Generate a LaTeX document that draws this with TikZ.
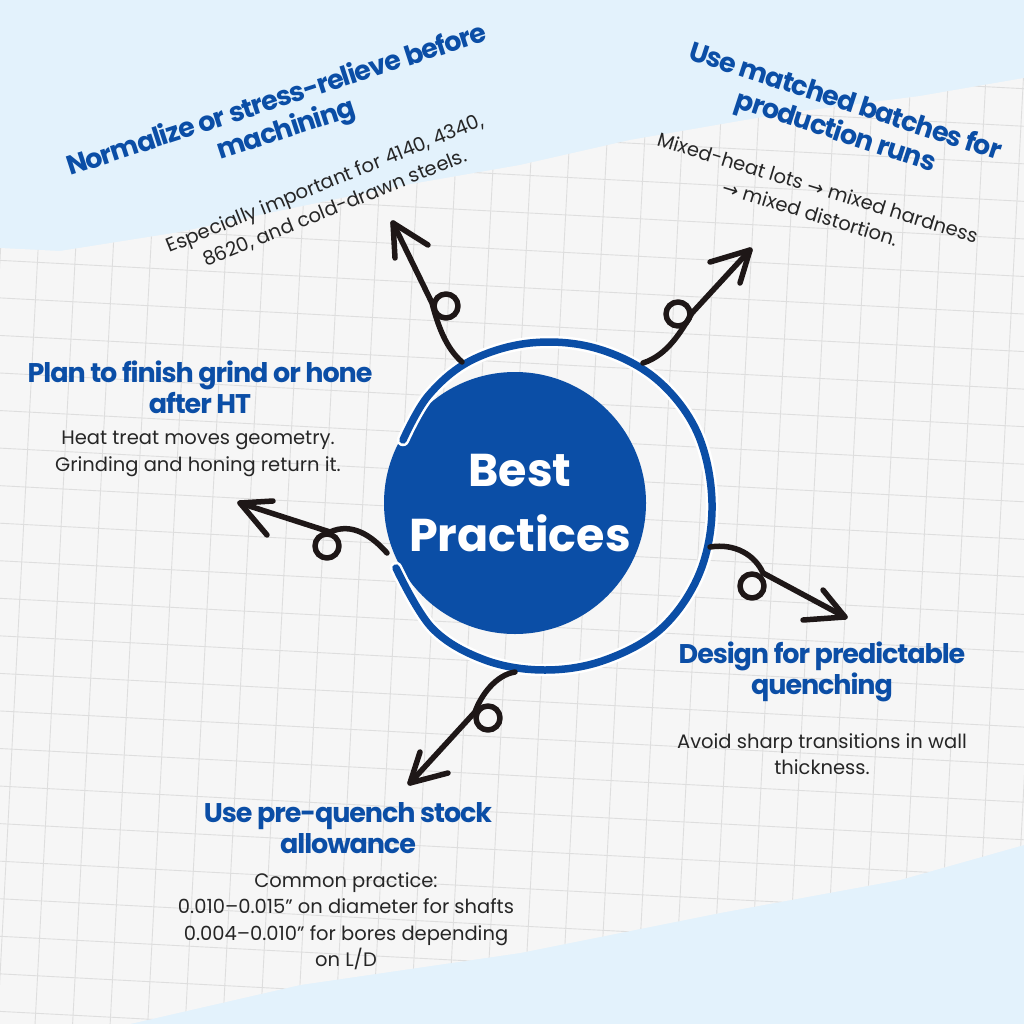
\documentclass[tikz,border=0pt]{standalone}
\usepackage{fontspec}
\setmainfont{Poppins}
\newfontfamily\titlef{Poppins}[LetterSpace=-4]
\newfontfamily\symf{DejaVu Sans}
\definecolor{bgblue}{HTML}{E3F2FC}
\definecolor{paper}{HTML}{F6F6F6}
\definecolor{gridc}{HTML}{DEDEDE}
\definecolor{navy}{HTML}{0B4EA6}
\definecolor{ink}{HTML}{1E1717}
\definecolor{bodyc}{HTML}{262626}
\tikzset{
  ttl/.style={text=navy, font=\titlef\bfseries\fontsize{27}{31}\selectfont, align=center, inner sep=0pt},
  bdy/.style={text=bodyc, font=\fontsize{19.5}{26.5}\selectfont, align=center, inner sep=0pt},
  curl/.style={draw=ink, line width=5.5pt, line cap=round, line join=round},
  ring/.style={draw=white, line width=2.5pt, double=navy, double distance=7.5pt, line cap=round},
  gridline/.style={draw=gridc, line width=0.9pt},
}
\begin{document}
\begin{tikzpicture}[x=1pt,y=-1pt]
\useasboundingbox (0,0) rectangle (1024,1024);
\fill[bgblue] (0,0) rectangle (1024,1024);
% paper sheet
\def\sheet{(0,248) -- (60,251) -- (180,232) -- (293,208) -- (400,186) -- (520,165) -- (630,140) -- (780,114) -- (920,96) -- (1024,78)
  -- (1024,845) -- (900,880) -- (720,913) -- (520,953) -- (300,985) -- (130,1024) -- (0,1024) -- cycle}
\fill[paper] \sheet;
\begin{scope}
  \clip \sheet;
  \begin{scope}[rotate around={-3:(512,512)}]
    \foreach \k in {-10,...,40} {
      \draw[gridline] (-200+37.5*\k,-200) -- (-200+37.5*\k,1250);
      \draw[gridline] (-200,-200+37.5*\k) -- (1250,-200+37.5*\k);
    }
  \end{scope}
\end{scope}

% hub
\node[circle, fill=navy, minimum size=262pt, inner sep=0pt] (hub) at (515,503) {};
\draw[ring] plot[smooth, tension=0.6] coordinates {(403,440) (428,396) (470,361) (530,343) (595,348) (655,378) (697,432) (712,503) (700,572) (662,628) (605,660) (545,670) (485,660) (432,628) (396,568)};
\node[text=white, font=\bfseries\fontsize{46}{65}\selectfont, align=center, inner sep=0pt] (hubtext) at (520,503) {Best\\Practices};

% texts
\node[ttl, rotate=18] (t1) at (282,116) {Normalize or stress-relieve before\\machining};
\node[bdy, rotate=22] (b1) at (330,196) {Especially important for 4140, 4340,\\8620, and cold-drawn steels.};
\node[ttl, rotate=-18] (t2) at (840,118) {Use matched batches for\\production runs};
\node[bdy, rotate=-17] (b2) at (814,200) {Mixed-heat lots {\symf →} mixed hardness\\{\symf →} mixed distortion.};
\node[ttl] (t3) at (200,387) {Plan to finish grind or hone\\after HT};
\node[bdy] (b3) at (198,454) {Heat treat moves geometry.\\Grinding and honing return it.};
\node[ttl] (t4) at (822,672) {Design for predictable\\quenching};
\node[bdy] (b4) at (822,754) {Avoid sharp transitions in wall\\thickness.};
\node[ttl] (t5) at (348,828) {Use pre-quench stock\\allowance};
\node[bdy] (b5) at (346,921) {Common practice:\\0.010–0.015" on diameter for shafts\\0.004–0.010" for bores depending\\on L/D};

% curly arrows
\coordinate (s1) at (462,362); \coordinate (p1) at (432,303); \coordinate (c1) at (446,306); \coordinate (e1) at (393,223);
\coordinate (a1) at (395,258); \coordinate (a1b) at (428,245);
\draw[curl] (e1) -- (p1) .. controls (438,326) and (446,348) .. (s1);
\draw[curl] (c1) circle (12);
\draw[curl] (a1) -- (e1) -- (a1b);

\coordinate (s2) at (643,363); \coordinate (p2) at (692,313); \coordinate (c2) at (678,314); \coordinate (e2) at (750,250);
\coordinate (a2) at (710,262); \coordinate (a2b) at (740,283);
\draw[curl] (e2) -- (p2) .. controls (682,330) and (668,355) .. (s2);
\draw[curl] (c2) circle (12);
\draw[curl] (a2) -- (e2) -- (a2b);

\coordinate (s3) at (387,553); \coordinate (p3) at (330,532); \coordinate (c3) at (327,546); \coordinate (e3) at (240,503);
\coordinate (a3) at (273,501); \coordinate (a3b) at (267,535);
\draw[curl] (e3) -- (p3) .. controls (352,522) and (372,536) .. (s3);
\draw[curl] (c3) circle (12);
\draw[curl] (a3) -- (e3) -- (a3b);

\coordinate (s4) at (710,547); \coordinate (p4) at (763,573); \coordinate (c4) at (752,586); \coordinate (e4) at (845,617);
\coordinate (a4) at (823,590); \coordinate (a4b) at (803,620);
\draw[curl] (s4) .. controls (735,543) and (755,555) .. (p4) -- (e4);
\draw[curl] (c4) circle (12);
\draw[curl] (a4) -- (e4) -- (a4b);

\coordinate (s5) at (515,672); \coordinate (p5) at (475,712); \coordinate (c5) at (488,718); \coordinate (e5) at (410,783);
\coordinate (a5) at (420,752); \coordinate (a5b) at (448,773);
\draw[curl] (s5) .. controls (496,675) and (481,695) .. (p5) -- (e5);
\draw[curl] (c5) circle (12);
\draw[curl] (a5) -- (e5) -- (a5b);
\end{tikzpicture}
\end{document}
